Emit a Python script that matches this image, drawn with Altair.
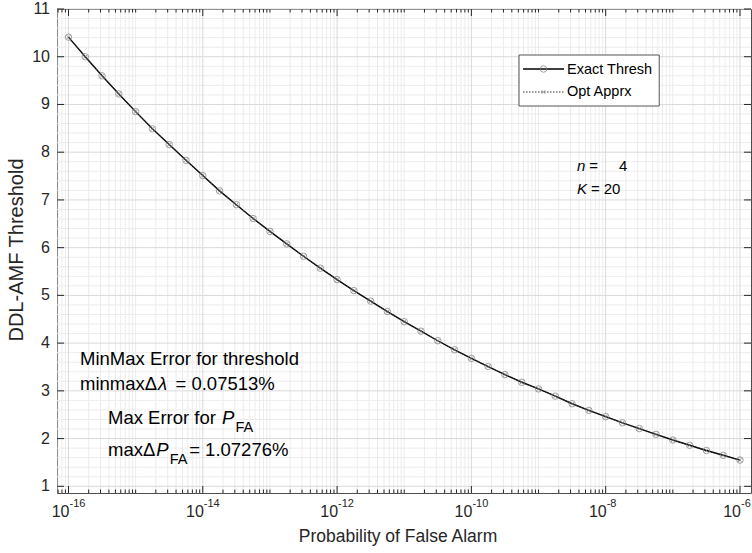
import altair as alt
import pandas as pd

# ---------------- data ----------------
pfa_exponent = [-16.0, -15.75, -15.5, -15.25, -15.0, -14.75, -14.5, -14.25, -14.0,
                -13.75, -13.5, -13.25, -13.0, -12.75, -12.5, -12.25, -12.0,
                -11.75, -11.5, -11.25, -11.0, -10.75, -10.5, -10.25, -10.0,
                -9.75, -9.5, -9.25, -9.0, -8.75, -8.5, -8.25, -8.0,
                -7.75, -7.5, -7.25, -7.0, -6.75, -6.5, -6.25, -6.0]
exact_thresh = [10.41, 10.00, 9.60, 9.22, 8.85, 8.49, 8.16, 7.83, 7.51,
                7.19, 6.90, 6.61, 6.34, 6.08, 5.82, 5.57, 5.33,
                5.10, 4.88, 4.66, 4.45, 4.25, 4.05, 3.86, 3.68,
                3.51, 3.34, 3.18, 3.04, 2.89, 2.73, 2.59, 2.46,
                2.33, 2.21, 2.09, 1.97, 1.86, 1.75, 1.65, 1.55]
opt_apprx = [10.41, 10.00, 9.60, 9.22, 8.85, 8.49, 8.16, 7.83, 7.51,
             7.19, 6.90, 6.61, 6.34, 6.08, 5.82, 5.57, 5.33,
             5.10, 4.88, 4.66, 4.45, 4.25, 4.05, 3.86, 3.68,
             3.51, 3.34, 3.18, 3.04, 2.89, 2.73, 2.59, 2.46,
             2.33, 2.21, 2.09, 1.97, 1.86, 1.75, 1.65, 1.55]
series_names = ["Exact Thresh", "Opt Apprx"]
x_major_exponents = [-16, -14, -12, -10, -8, -6]
x_tick_mantissa = ["10", "10", "10", "10", "10", "10"]
x_tick_exponent_labels = ["-16", "-14", "-12", "-10", "-8", "-6"]
y_tick_values = [1, 2, 3, 4, 5, 6, 7, 8, 9, 10, 11]
y_tick_labels = ["1", "2", "3", "4", "5", "6", "7", "8", "9", "10", "11"]
x_title = "Probability of False Alarm"
y_title = "DDL-AMF Threshold"

# ---------------- layout / style ----------------
W, H = 694, 484
PAD_L, PAD_T = 57, 9
FONT = "Liberation Sans"
TXT = "#262626"
XDOM = [10 ** -16.171, 10 ** -5.836]
YDOM = [0.86, 11]
xs = alt.Scale(type="log", domain=XDOM, nice=False)
ys = alt.Scale(domain=YDOM, nice=False, zero=False)
ANN = 18.5   # annotation font size
SUB = 14.5   # subscript size
LEG = 14.5   # legend font size
TICK = 16    # tick label size
TTL = 17.5   # x axis title size
YTTL = 20    # y axis title size

AW = {" ": 278, "%": 889, ".": 278, "=": 584, "A": 667, "E": 667, "F": 611,
      "K": 667, "M": 833, "P": 667, "T": 611, "a": 556, "d": 556, "e": 556,
      "f": 278, "h": 556, "i": 222, "l": 222, "m": 833, "n": 556, "o": 556,
      "r": 333, "s": 500, "t": 278, "x": 500, "\u0394": 668, "\u03bb": 500}


def tw(s, size):
    return sum(AW.get(c, 556) for c in s) / 1000.0 * size


one = pd.DataFrame({"a": [0]})
df = pd.DataFrame({"pfa": [10 ** e for e in pfa_exponent],
                   "exact": exact_thresh, "opt": opt_apprx})

major_x = [10.0 ** e for e in x_major_exponents]
minor_x = []
for d in range(-17, -5):
    for k in range(1, 10):
        v = k * 10.0 ** d
        if XDOM[0] <= v <= XDOM[1] and not (k == 1 and d in x_major_exponents):
            minor_x.append(v)
minor_y = [i / 5 for i in range(5, 55) if i % 5]

gx_minor = pd.DataFrame({"v": minor_x})
gx_major = pd.DataFrame({"v": major_x})
gy_minor = pd.DataFrame({"v": minor_y})
gy_major = pd.DataFrame({"v": y_tick_values, "t": y_tick_labels})

X = lambda f: alt.X(f, scale=xs, axis=None)
Y = lambda f: alt.Y(f, scale=ys, axis=None)

layers = []


def vgrid(data, color, width):
    return alt.Chart(data).mark_rule(color=color, strokeWidth=width).encode(
        x=X("v:Q"), y=alt.value(0), y2=alt.value(H))


def hgrid(data, color, width):
    return alt.Chart(data).mark_rule(color=color, strokeWidth=width).encode(
        y=Y("v:Q"), x=alt.value(0), x2=alt.value(W))


layers += [vgrid(gx_minor, "#ececec", 1), hgrid(gy_minor, "#ececec", 1),
           vgrid(gx_major, "#d9d9d9", 1), hgrid(gy_major, "#d9d9d9", 1)]

# curves and markers
layers.append(alt.Chart(df).mark_line(color="black", strokeWidth=1.4).encode(
    x=X("pfa:Q"), y=Y("exact:Q")))
layers.append(alt.Chart(df).mark_line(color="#333333", strokeWidth=1,
                                      strokeDash=[1.5, 1.5]).encode(
    x=X("pfa:Q"), y=Y("opt:Q")))
layers.append(alt.Chart(df).mark_point(shape="circle", filled=False, size=42,
                                       color="#7a7a7a", strokeWidth=1).encode(
    x=X("pfa:Q"), y=Y("exact:Q")))
XSHAPE = "M-1,-1L1,1M-1,1L1,-1"
layers.append(alt.Chart(df).mark_point(shape=XSHAPE, filled=False, size=14,
                                       color="#7a7a7a", strokeWidth=1).encode(
    x=X("pfa:Q"), y=Y("opt:Q")))


# inward ticks on all four sides
def xticks(data, length):
    b = alt.Chart(data).mark_rule(color=TXT, strokeWidth=1).encode(
        x=X("v:Q"), y=alt.value(H), y2=alt.value(H - length))
    t = alt.Chart(data).mark_rule(color=TXT, strokeWidth=1).encode(
        x=X("v:Q"), y=alt.value(0), y2=alt.value(length))
    return [b, t]


layers += xticks(gx_minor, 3.5) + xticks(gx_major, 7)
for x0, x1 in [(0, 7), (W - 7, W)]:
    layers.append(alt.Chart(gy_major).mark_rule(color=TXT, strokeWidth=1).encode(
        y=Y("v:Q"), x=alt.value(x0), x2=alt.value(x1)))

# tick labels
xlab = pd.DataFrame({"v": major_x, "m": x_tick_mantissa, "e": x_tick_exponent_labels})
layers.append(alt.Chart(xlab).mark_text(align="right", baseline="middle", font=FONT,
                                        fontSize=TICK, color=TXT, dx=1).encode(
    x=X("v:Q"), y=alt.value(H + 19), text="m:N"))
layers.append(alt.Chart(xlab).mark_text(align="left", baseline="middle", font=FONT,
                                        fontSize=11, color=TXT, dx=1).encode(
    x=X("v:Q"), y=alt.value(H + 11), text="e:N"))
layers.append(alt.Chart(gy_major).mark_text(align="right", baseline="middle", font=FONT,
                                            fontSize=TICK, color=TXT).encode(
    y=Y("v:Q"), x=alt.value(-7), text="t:N"))

# axis titles
layers.append(alt.Chart(pd.DataFrame({"t": [x_title]})).mark_text(
    align="center", baseline="middle", font=FONT, fontSize=TTL, color=TXT).encode(
    x=alt.value(W / 2 - 6), y=alt.value(528), text="t:N"))
layers.append(alt.Chart(pd.DataFrame({"t": [y_title]})).mark_text(
    align="center", baseline="middle", font=FONT, fontSize=YTTL, color=TXT, angle=270).encode(
    x=alt.value(17 - PAD_L), y=alt.value(H / 2 - 1), text="t:N"))


def txt(s, x, y, size=ANN, italic=False):
    return alt.Chart(pd.DataFrame({"t": [s]})).mark_text(
        align="left", baseline="middle", font=FONT, fontSize=size,
        fontStyle="italic" if italic else "normal", color="black").encode(
        x=alt.value(x - PAD_L), y=alt.value(y - PAD_T), text="t:N")


def run(x, y, parts):
    """parts: (text, size, italic, dy, gap_before)"""
    out = []
    for s, size, italic, dy, gap in parts:
        x += gap
        out.append(txt(s, x, y + dy, size, italic))
        x += tw(s, size)
    return out


# legend
LX0, LY0 = 519, 55
leg_text_x = 567
leg_w = leg_text_x + tw(series_names[0], LEG) + 6
layers.append(alt.Chart(one).mark_rect(fill="white", stroke="#555555", strokeWidth=1).encode(
    x=alt.value(LX0 - PAD_L), x2=alt.value(leg_w - PAD_L),
    y=alt.value(LY0 - PAD_T), y2=alt.value(106 - PAD_T)))
layers.append(alt.Chart(one).mark_rule(color="black", strokeWidth=1.4).encode(
    x=alt.value(523 - PAD_L), x2=alt.value(564 - PAD_L), y=alt.value(69 - PAD_T)))
layers.append(alt.Chart(one).mark_rule(color="#333333", strokeWidth=1, strokeDash=[1.5, 1.5]).encode(
    x=alt.value(523 - PAD_L), x2=alt.value(564 - PAD_L), y=alt.value(92 - PAD_T)))
layers.append(alt.Chart(one).mark_point(shape="circle", filled=False, size=42,
                                        color="#7a7a7a", strokeWidth=1).encode(
    x=alt.value(543.5 - PAD_L), y=alt.value(69 - PAD_T)))
layers.append(alt.Chart(one).mark_point(shape=XSHAPE, filled=False, size=14,
                                        color="#7a7a7a", strokeWidth=1).encode(
    x=alt.value(543.5 - PAD_L), y=alt.value(92 - PAD_T)))
layers.append(txt(series_names[0], leg_text_x, 70, LEG))
layers.append(txt(series_names[1], leg_text_x, 92, LEG))

# n, K annotation
NK = 15
layers += run(577, 166, [("n", NK, True, 0, 0), ("=", NK, False, 0, 4), ("4", NK, False, 0, 21)])
layers += run(577, 189, [("K", NK, True, 0, 0), ("=", NK, False, 0, 4), ("20", NK, False, 0, 4)])

# error annotations
sp = tw(" ", ANN)
layers.append(txt("MinMax Error for threshold", 80, 359))
layers += run(80, 384, [("minmax\u0394", ANN, False, 0, 0), ("\u03bb", ANN, True, 0, 1),
                        ("= 0.07513%", ANN, False, 0, sp + 3)])
layers += run(108, 418, [("Max Error for", ANN, False, 0, 0), ("P", ANN, True, 0, sp + 1),
                         ("FA", SUB, False, 10, 1)])
layers += run(108, 450, [("max\u0394", ANN, False, 0, 0), ("P", ANN, True, 0, 1),
                         ("FA", SUB, False, 10, 1), ("= 1.07276%", ANN, False, 0, 1)])

chart = alt.layer(*layers).properties(
    width=W, height=H,
    autosize=alt.AutoSizeParams(type="none"),
    padding={"left": PAD_L, "top": PAD_T, "right": 752 - PAD_L - W, "bottom": 553 - PAD_T - H},
    background="white",
).configure_view(stroke="#4d4d4d", strokeWidth=1)

chart.save("out.html", embed_options={"renderer": "svg", "actions": False})
